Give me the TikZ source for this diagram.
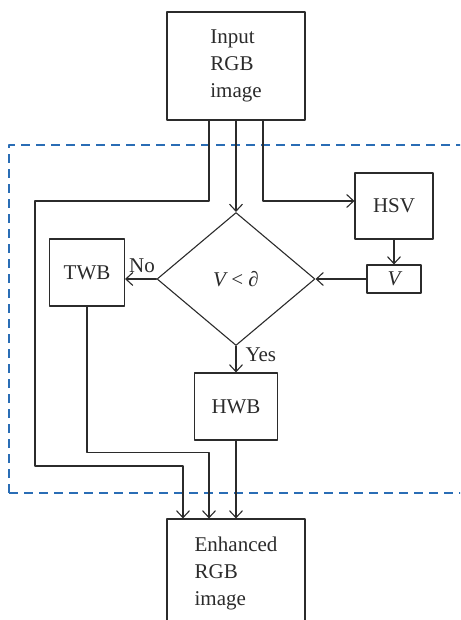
\documentclass[tikz,border=0pt]{standalone}
\usepackage{fontspec}
\setmainfont{Liberation Serif}
\usetikzlibrary{arrows.meta,shapes.geometric}
\definecolor{dashblue}{HTML}{2A6DB5}
\definecolor{ink}{HTML}{2B2B2B}
\tikzset{
	box/.style={draw=ink,line width=1.1pt,inner sep=0pt,text=ink},
	link/.style={draw=ink,line width=1.1pt,-{Straight Barb[length=7pt,width=13pt]}},
	tag/.style={inner sep=1pt,text=ink},
}
\begin{document}
\begin{tikzpicture}[x=1pt,y=-1pt,font=\fontsize{21}{27}\selectfont,line join=round,line cap=round]
	\useasboundingbox (0,0) rectangle (460,620);
	\clip (0,0) rectangle (460,620);
	\draw[dashblue,line width=2.4pt,dash pattern=on 9pt off 6pt,line cap=butt] (9,493) -- (9,145) -- (480,145);
	\draw[dashblue,line width=2.4pt,dash pattern=on 9pt off 6pt,line cap=butt] (9,493) -- (480,493);
	
	\node[box,minimum width=138,minimum height=108,align=left] (in) at (236,66) {Input\\RGB\\image};
	\node[box,minimum width=78,minimum height=66] (hsv) at (394,206) {HSV};
	\node[box,minimum width=54,minimum height=28] (vbox) at (394,279) {\itshape V};
	\node[box,diamond,minimum width=158,minimum height=133] (dec) at (236,279) {{\itshape V} < ∂};
	\node[box,minimum width=75,minimum height=67] (twb) at (87,272.5) {TWB};
	\node[box,minimum width=83,minimum height=67] (hwb) at (236,406.5) {HWB};
	\node[box,minimum width=138,minimum height=108,align=left] (out) at (236,573) {Enhanced\\RGB\\image};
	
	\draw[link] (in.south) -- (dec.north);
	\draw[link] ([xshift=-27]in.south) |- (35,201) -- (35,466) -| ([xshift=-53]out.north);
	\draw[link] ([xshift=27]in.south) |- ([yshift=5]hsv.west);
	\draw[link] (hsv) -- (vbox);
	\draw[link] (vbox) -- (dec);
	\draw[link] (dec.west) node[tag,anchor=south east,yshift=5]{No} -- (twb.east |- dec.west);
	\draw[link] (dec.south) node[tag,anchor=north west,xshift=8]{Yes} -- (hwb.north);
	\draw[link] (twb.south) -- ++(0,146) -| ([xshift=-27]out.north);
	\draw[link] (hwb) -- (out);
\end{tikzpicture}
\end{document}
